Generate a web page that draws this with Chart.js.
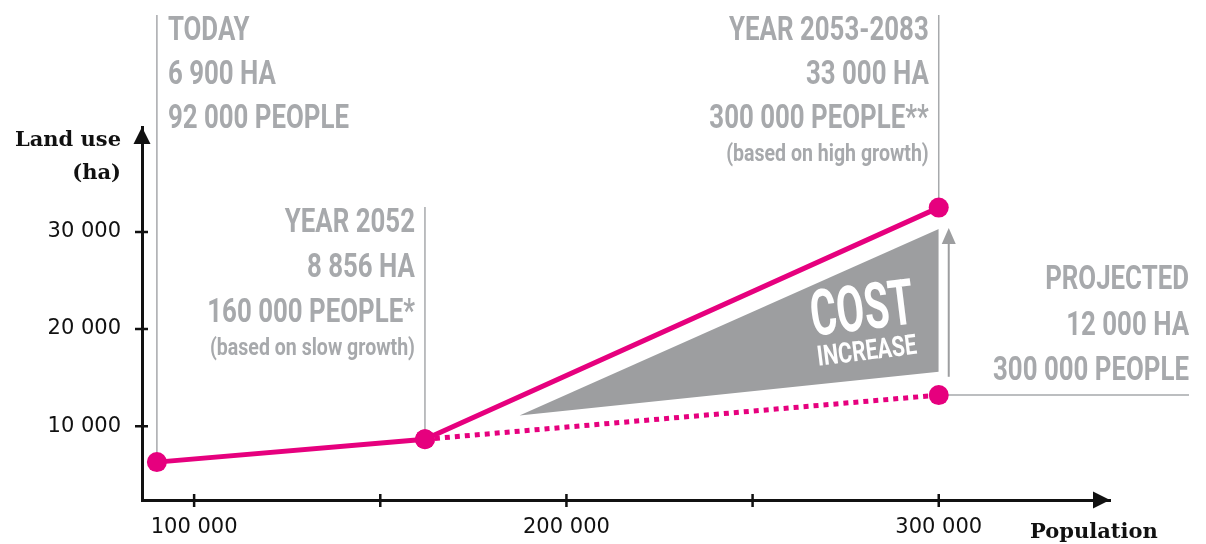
<!DOCTYPE html>
<html><head><meta charset="utf-8">
<script src="https://cdn.jsdelivr.net/npm/chart.js@4"></script>
<style>html,body{margin:0;padding:0;background:#fff}canvas{display:block}</style>
</head><body>
<canvas id="c" width="1206" height="544"></canvas>
<script>
// ---- data ----
const populations = [90000, 162000, 300000];
const landUseHigh = [6300, 8650, 32500];
const projectedPop = [162000, 300000];
const projectedLand = [8650, 13200];
const costPop = [187400, 300000];
const costUpper = [11100, 30300];
const costLower = [11100, 15600];
const xTicks = [100000, 150000, 200000, 250000, 300000];
const xTickLabels = ['100 000', '', '200 000', '', '300 000'];
const yTicks = [10000, 20000, 30000];
const yTickLabels = ['10 000', '20 000', '30 000'];
const todayLabel = ['TODAY', '6 900 HA', '92 000 PEOPLE'];
const slowLabel = ['YEAR 2052', '8 856 HA', '160 000 PEOPLE*'];
const slowNote = '(based on slow growth)';
const highLabel = ['YEAR 2053-2083', '33 000 HA', '300 000 PEOPLE**'];
const highNote = '(based on high growth)';
const projLabel = ['PROJECTED', '12 000 HA', '300 000 PEOPLE'];
const costLabel = ['COST', 'INCREASE'];
const yTitle = ['Land use', '(ha)'];
const xTitle = 'Population';

// ---- styles ----
const PINK = '#e6007e', GREY_TXT = '#a7a9ac', GREY_FILL = '#9d9ea0', AXIS = '#111111';
const COND = '"Roboto", "Liberation Sans Narrow", "DejaVu Sans Condensed", sans-serif';
const SERIF = '"DejaVu Serif", "Liberation Serif", serif';
const TICKFONT = '"DejaVu Sans", sans-serif';

function drawCond(ctx, text, x, y, size, weight, align, sx, color) {
  ctx.save();
  ctx.font = weight + ' ' + size + 'px ' + COND;
  ctx.fillStyle = color;
  ctx.textBaseline = 'alphabetic';
  ctx.textAlign = 'left';
  const w = ctx.measureText(text).width * sx;
  const x0 = align === 'right' ? x - w : align === 'center' ? x - w / 2 : x;
  ctx.translate(x0, y);
  ctx.scale(sx, 1);
  ctx.fillText(text, 0, 0);
  ctx.restore();
}

const overlay = {
  id: 'overlay',
  beforeDatasetsDraw(chart) {
    const ctx = chart.ctx, X = chart.scales.x, Y = chart.scales.y;
    const p1 = [X.getPixelForValue(populations[0]), Y.getPixelForValue(landUseHigh[0])];
    const p2 = [X.getPixelForValue(populations[1]), Y.getPixelForValue(landUseHigh[1])];
    const p3 = [X.getPixelForValue(populations[2]), Y.getPixelForValue(landUseHigh[2])];
    const p4 = [X.getPixelForValue(projectedPop[1]), Y.getPixelForValue(projectedLand[1])];
    ctx.save();
    ctx.strokeStyle = GREY_TXT; ctx.lineWidth = 1.5;
    ctx.beginPath();
    ctx.moveTo(p1[0], p1[1]); ctx.lineTo(p1[0], 15);
    ctx.moveTo(p2[0], p2[1]); ctx.lineTo(p2[0], 207);
    ctx.moveTo(p3[0], p3[1]); ctx.lineTo(p3[0], 15);
    ctx.moveTo(p4[0], p4[1]); ctx.lineTo(1189, p4[1]);
    ctx.stroke();
    // cost arrow
    const ax = X.getPixelForValue(costPop[1]) + 10;
    const yb = Y.getPixelForValue(costLower[1]) + 5;
    const yt = Y.getPixelForValue(costUpper[1]);
    ctx.strokeStyle = GREY_FILL; ctx.fillStyle = GREY_FILL; ctx.lineWidth = 2;
    ctx.beginPath(); ctx.moveTo(ax, yb); ctx.lineTo(ax, yt + 12); ctx.stroke();
    ctx.beginPath(); ctx.moveTo(ax, yt - 1); ctx.lineTo(ax - 7, yt + 15); ctx.lineTo(ax + 7, yt + 15); ctx.closePath(); ctx.fill();
    ctx.restore();
  },
  afterDraw(chart) {
    const ctx = chart.ctx, X = chart.scales.x, Y = chart.scales.y, ca = chart.chartArea;
    ctx.save();
    // tick marks crossing axes
    ctx.strokeStyle = AXIS; ctx.lineWidth = 2.5;
    ctx.beginPath();
    X.ticks.forEach(t => { const px = X.getPixelForValue(t.value); ctx.moveTo(px, ca.bottom - 6); ctx.lineTo(px, ca.bottom + 7); });
    Y.ticks.forEach(t => { const py = Y.getPixelForValue(t.value); ctx.moveTo(ca.left - 7, py); ctx.lineTo(ca.left + 6, py); });
    ctx.stroke();
    // arrowheads
    ctx.fillStyle = AXIS;
    ctx.beginPath(); ctx.moveTo(ca.left, ca.top); ctx.lineTo(ca.left - 8.5, ca.top + 17); ctx.lineTo(ca.left + 8.5, ca.top + 17); ctx.closePath(); ctx.fill();
    ctx.beginPath(); ctx.moveTo(ca.right, ca.bottom); ctx.lineTo(ca.right - 17, ca.bottom - 8.5); ctx.lineTo(ca.right - 17, ca.bottom + 8.5); ctx.closePath(); ctx.fill();
    // axis titles
    ctx.font = 'bold 21px ' + SERIF; ctx.fillStyle = AXIS; ctx.textBaseline = 'alphabetic';
    ctx.textAlign = 'right';
    ctx.fillText(yTitle[0], 121, 146);
    ctx.fillText(yTitle[1], 121, 179);
    ctx.textAlign = 'left';
    ctx.fillText(xTitle, 1030, 538);

    const p1x = X.getPixelForValue(populations[0]);
    const p2x = X.getPixelForValue(populations[1]);
    const p3x = X.getPixelForValue(populations[2]);
    const S = 0.76;
    // TODAY
    [40, 84, 128].forEach((b, i) => drawCond(ctx, todayLabel[i], p1x + 11, b, 34, 'bold', 'left', S, GREY_TXT));
    // YEAR 2052
    [232, 277, 322].forEach((b, i) => drawCond(ctx, slowLabel[i], p2x - 10, b, 34, 'bold', 'right', S, GREY_TXT));
    drawCond(ctx, slowNote, p2x - 10, 355, 23, 'bold', 'right', 0.85, GREY_TXT);
    // YEAR 2053-2083
    [40, 84, 128].forEach((b, i) => drawCond(ctx, highLabel[i], p3x - 10, b, 34, 'bold', 'right', S, GREY_TXT));
    drawCond(ctx, highNote, p3x - 10, 161, 23, 'bold', 'right', 0.85, GREY_TXT);
    // PROJECTED
    [289, 335, 380].forEach((b, i) => drawCond(ctx, projLabel[i], 1189, b, 34, 'bold', 'right', S, GREY_TXT));
    // COST INCREASE
    const cx = X.getPixelForValue(costPop[1]);
    const cy = Y.getPixelForValue(costLower[1]);
    ctx.save();
    ctx.translate(cx - 77, cy - 65);
    ctx.rotate(-7 * Math.PI / 180);
    drawCond(ctx, costLabel[0], 0, 23, 64, 'bold', 'center', 0.63, '#ffffff');
    ctx.restore();
    ctx.save();
    ctx.translate(cx - 72, cy - 22);
    ctx.rotate(-7 * Math.PI / 180);
    drawCond(ctx, costLabel[1], 0, 10, 28, 'bold', 'center', 0.76, '#ffffff');
    ctx.restore();
    ctx.restore();
  }
};

new Chart(document.getElementById('c'), {
  type: 'line',
  data: {
    datasets: [
      { label: 'High growth', data: populations.map((p, i) => ({ x: p, y: landUseHigh[i] })),
        borderColor: PINK, backgroundColor: PINK, borderWidth: 5, pointRadius: 10, pointBorderWidth: 0,
        pointBackgroundColor: PINK, tension: 0, fill: false, order: 0 },
      { label: 'Projected', data: projectedPop.map((p, i) => ({ x: p, y: projectedLand[i] })),
        borderColor: PINK, borderWidth: 5, borderDash: [5, 5], pointRadius: 10, pointBorderWidth: 0,
        pointBackgroundColor: PINK, tension: 0, fill: false, order: 1 },
      { label: 'Cost upper', data: costPop.map((p, i) => ({ x: p, y: costUpper[i] })),
        borderColor: 'rgba(0,0,0,0)', borderWidth: 1, pointRadius: 0, fill: false, order: 2 },
      { label: 'Cost lower', data: costPop.map((p, i) => ({ x: p, y: costLower[i] })),
        borderColor: 'rgba(0,0,0,0)', borderWidth: 1, pointRadius: 0, fill: '-1', backgroundColor: GREY_FILL, order: 3 }
    ]
  },
  options: {
    responsive: false, animation: false, devicePixelRatio: 1,
    layout: { padding: { top: 127, right: 96, left: 0, bottom: 0 } },
    plugins: { legend: { display: false }, tooltip: { enabled: false } },
    scales: {
      x: {
        type: 'linear', min: 86000, max: 346000,
        afterBuildTicks: s => { s.ticks = xTicks.map(v => ({ value: v })); },
        afterFit: s => { s.height = 44; },
        grid: { display: false, drawTicks: false },
        border: { display: true, color: AXIS, width: 3 },
        ticks: { autoSkip: false, maxRotation: 0, padding: 15, color: AXIS,
          font: { family: TICKFONT, size: 21 },
          callback: v => xTickLabels[xTicks.indexOf(v)] }
      },
      y: {
        type: 'linear', min: 2400, max: 40800,
        afterBuildTicks: s => { s.ticks = yTicks.map(v => ({ value: v })); },
        afterFit: s => { s.width = 142; },
        grid: { display: false, drawTicks: false },
        border: { display: true, color: AXIS, width: 3 },
        ticks: { autoSkip: false, padding: 21, color: AXIS,
          font: { family: TICKFONT, size: 21 },
          callback: v => yTickLabels[yTicks.indexOf(v)] }
      }
    }
  },
  plugins: [overlay]
});
</script>
</body></html>
